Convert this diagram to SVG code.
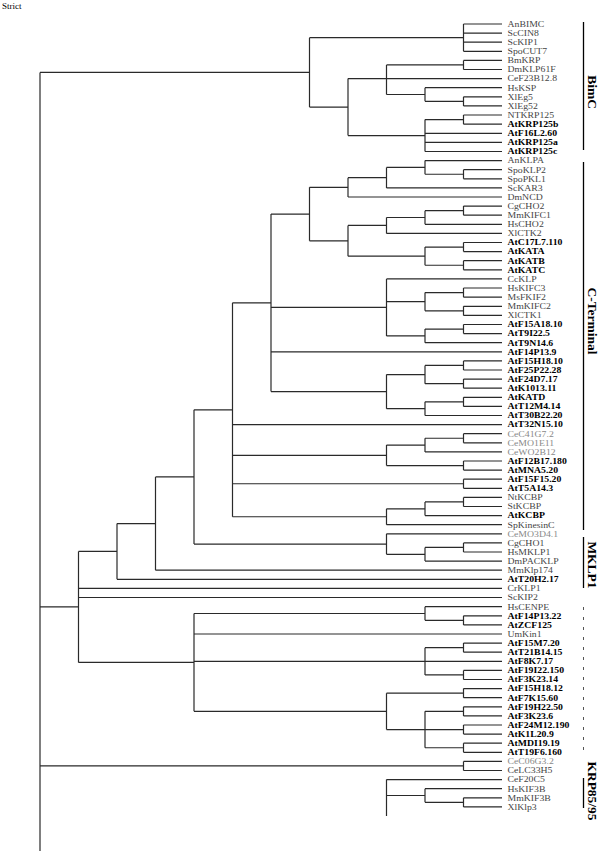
<svg xmlns="http://www.w3.org/2000/svg" width="600" height="851" viewBox="0 0 600 851">
<style>
.c{fill:none;stroke:#2a2a2a;stroke-width:1.2}
.l{font-family:"Liberation Serif",serif;font-size:8px;fill:#444}
.b{font-weight:bold;fill:#000}
.g{fill:#888}
.k{font-family:"Liberation Serif",serif;font-size:13.5px;font-weight:bold;fill:#000}
.bar{stroke:#000;stroke-width:1.3}
</style>
<rect width="600" height="851" fill="#fff"/>
<text x="2" y="9" font-family="Liberation Serif,serif" font-size="9">Strict</text>
<g id="connectors" class="c">
<path d="M40 72.4V851M40 72.4H309.5"/>
<path d="M463.5 24V51.3M463.5 24H502M463.5 33.1H502M463.5 42.2H502M463.5 51.3H502"/>
<path d="M463.5 60.4V69.5M463.5 60.4H502M463.5 69.5H502"/>
<path d="M463.5 96.8V105.9M463.5 96.8H502M463.5 105.9H502"/>
<path d="M425 87.7V101.35M425 87.7H502M425 101.35H463.5"/>
<path d="M386.5 64.95V94.5M386.5 64.95H463.5M386.5 78.6H502M386.5 94.5H425"/>
<path d="M463.5 115V124.2M463.5 115H502M463.5 124.2H502"/>
<path d="M425 119.6V151.5M425 119.6H463.5M425 133.3H502M425 142.4H502M425 151.5H502"/>
<path d="M348 78.6V135.55M348 78.6H386.5M348 135.55H425"/>
<path d="M309.5 37.65V107.1M309.5 37.65H463.5M309.5 107.1H348"/>
<path d="M463.5 169.7V178.8M463.5 169.7H502M463.5 178.8H502"/>
<path d="M425 160.6V174.25M425 160.6H502M425 174.25H463.5"/>
<path d="M386.5 167.4V187.9M386.5 167.4H425M386.5 187.9H502"/>
<path d="M348 177.65V197M348 177.65H386.5M348 197H502"/>
<path d="M463.5 206.1V215.2M463.5 206.1H502M463.5 215.2H502"/>
<path d="M425 210.65V224.3M425 210.65H463.5M425 224.3H502"/>
<path d="M386.5 217.5V233.4M386.5 217.5H425M386.5 233.4H502"/>
<path d="M463.5 242.5V251.6M463.5 242.5H502M463.5 251.6H502"/>
<path d="M463.5 260.7V269.8M463.5 260.7H502M463.5 269.8H502"/>
<path d="M425 247.05V265.25M425 247.05H463.5M425 265.25H463.5"/>
<path d="M348 225.45V256.15M348 225.45H386.5M348 256.15H425"/>
<path d="M309.5 187.3V240.8M309.5 187.3H348M309.5 240.8H348"/>
<path d="M463.5 288V297.2M463.5 288H502M463.5 297.2H502"/>
<path d="M463.5 306.3V315.4M463.5 306.3H502M463.5 315.4H502"/>
<path d="M425 292.6V310.85M425 292.6H463.5M425 310.85H463.5"/>
<path d="M463.5 324.5V333.6M463.5 324.5H502M463.5 333.6H502"/>
<path d="M425 329.05V342.7M425 329.05H463.5M425 342.7H502"/>
<path d="M386.5 278.9V335.9M386.5 278.9H502M386.5 301.7H425M386.5 335.9H425"/>
<path d="M463.5 360.9V370M463.5 360.9H502M463.5 370H502"/>
<path d="M463.5 379.1V388.2M463.5 379.1H502M463.5 388.2H502"/>
<path d="M425 365.45V383.65M425 365.45H463.5M425 383.65H463.5"/>
<path d="M463.5 397.3V406.4M463.5 397.3H502M463.5 406.4H502"/>
<path d="M425 401.85V415.5M425 401.85H463.5M425 415.5H502"/>
<path d="M386.5 374.55V408.7M386.5 374.55H425M386.5 408.7H425"/>
<path d="M271 214.05V391.6M271 214.05H309.5M271 307.4H386.5M271 351.8H502M271 391.6H386.5"/>
<path d="M463.5 433.7V442.8M463.5 433.7H502M463.5 442.8H502"/>
<path d="M425 438.25V451.9M425 438.25H463.5M425 451.9H502"/>
<path d="M463.5 461V470.1M463.5 461H502M463.5 470.1H502"/>
<path d="M386.5 445.1V465.55M386.5 445.1H425M386.5 465.55H463.5"/>
<path d="M463.5 479.2V488.3M463.5 479.2H502M463.5 488.3H502"/>
<path d="M463.5 497.4V506.5M463.5 497.4H502M463.5 506.5H502"/>
<path d="M425 501.95V515.6M425 501.95H463.5M425 515.6H502"/>
<path d="M386.5 508.8V524.7M386.5 508.8H425M386.5 524.7H502"/>
<path d="M232.5 302.8V516.75M232.5 302.8H271M232.5 424.6H502M232.5 455.3H386.5M232.5 483.75H463.5M232.5 516.75H386.5"/>
<path d="M463.5 542.9V552M463.5 542.9H502M463.5 552H502"/>
<path d="M425 547.45V561.1M425 547.45H463.5M425 561.1H502"/>
<path d="M386.5 533.8V554.3M386.5 533.8H502M386.5 554.3H425"/>
<path d="M194 409.8V544.05M194 409.8H232.5M194 544.05H386.5"/>
<path d="M155.5 476.9V570.2M155.5 476.9H194M155.5 570.2H502"/>
<path d="M117 523.55V579.3M117 523.55H155.5M117 579.3H502"/>
<path d="M463.5 615.8V624.9M463.5 615.8H502M463.5 624.9H502"/>
<path d="M425 606.7V620.35M425 606.7H502M425 620.35H463.5"/>
<path d="M463.5 643.1V652.2M463.5 643.1H502M463.5 652.2H502"/>
<path d="M463.5 670.4V679.5M463.5 670.4H502M463.5 679.5H502"/>
<path d="M425 647.65V674.95M425 647.65H463.5M425 661.3H502M425 674.95H463.5"/>
<path d="M463.5 688.6V697.7M463.5 688.6H502M463.5 697.7H502"/>
<path d="M463.5 706.8V715.9M463.5 706.8H502M463.5 715.9H502"/>
<path d="M463.5 725V734.1M463.5 725H502M463.5 734.1H502"/>
<path d="M463.5 743.2V752.3M463.5 743.2H502M463.5 752.3H502"/>
<path d="M425 711.35V747.75M425 711.35H463.5M425 729.55H463.5M425 747.75H463.5"/>
<path d="M386.5 693.15V729.55M386.5 693.15H463.5M386.5 729.55H425"/>
<path d="M194 613.5V711.35M194 613.5H425M194 634H502M194 661.3H425M194 711.35H386.5"/>
<path d="M78.5 551.4V662.4M78.5 551.4H117M78.5 588.4H502M78.5 597.5H502M78.5 662.4H194M40 606.9H78.5"/>
<path d="M463.5 761.4V770.5M463.5 761.4H502M463.5 770.5H502M40 765.95H463.5"/>
<path d="M463.5 797.8V806.9M463.5 797.8H502M463.5 806.9H502"/>
<path d="M425 788.7V802.35M425 788.7H502M425 802.35H463.5"/>
<path d="M386.5 779.6V816.1M386.5 779.6H502M386.5 795.5H425"/>
</g>
<g id="leaves" transform="translate(507.5 0) scale(1.22 1)">
<g id="n1"><text class="l" y="26.9">AnBIMC</text></g>
<g id="n2"><text class="l" y="36">ScCIN8</text></g>
<g id="n3"><text class="l" y="45.1">ScKIP1</text></g>
<g id="n4"><text class="l" y="54.2">SpoCUT7</text></g>
<g id="n5"><text class="l" y="63.3">BmKRP</text></g>
<g id="n6"><text class="l" y="72.4">DmKLP61F</text></g>
<g id="n7"><text class="l" y="81.5">CeF23B12.8</text></g>
<g id="n8"><text class="l" y="90.6">HsKSP</text></g>
<g id="n9"><text class="l" y="99.7">XlEg5</text></g>
<g id="n10"><text class="l" y="108.8">XlEg52</text></g>
<g id="n11"><text class="l" y="117.9">NTKRP125</text></g>
<g id="n12"><text class="l b" y="127.1">AtKRP125b</text></g>
<g id="n13"><text class="l b" y="136.2">AtF16L2.60</text></g>
<g id="n14"><text class="l b" y="145.3">AtKRP125a</text></g>
<g id="n15"><text class="l b" y="154.4">AtKRP125c</text></g>
<g id="n16"><text class="l" y="163.5">AnKLPA</text></g>
<g id="n17"><text class="l" y="172.6">SpoKLP2</text></g>
<g id="n18"><text class="l" y="181.7">SpoPKL1</text></g>
<g id="n19"><text class="l" y="190.8">ScKAR3</text></g>
<g id="n20"><text class="l" y="199.9">DmNCD</text></g>
<g id="n21"><text class="l" y="209">CgCHO2</text></g>
<g id="n22"><text class="l" y="218.1">MmKIFC1</text></g>
<g id="n23"><text class="l" y="227.2">HsCHO2</text></g>
<g id="n24"><text class="l" y="236.3">XlCTK2</text></g>
<g id="n25"><text class="l b" y="245.4">AtC17L7.110</text></g>
<g id="n26"><text class="l b" y="254.5">AtKATA</text></g>
<g id="n27"><text class="l b" y="263.6">AtKATB</text></g>
<g id="n28"><text class="l b" y="272.7">AtKATC</text></g>
<g id="n29"><text class="l" y="281.8">CcKLP</text></g>
<g id="n30"><text class="l" y="290.9">HsKIFC3</text></g>
<g id="n31"><text class="l" y="300.1">MsFKIF2</text></g>
<g id="n32"><text class="l" y="309.2">MmKIFC2</text></g>
<g id="n33"><text class="l" y="318.3">XlCTK1</text></g>
<g id="n34"><text class="l b" y="327.4">AtF15A18.10</text></g>
<g id="n35"><text class="l b" y="336.5">AtT9I22.5</text></g>
<g id="n36"><text class="l b" y="345.6">AtT9N14.6</text></g>
<g id="n37"><text class="l b" y="354.7">AtF14P13.9</text></g>
<g id="n38"><text class="l b" y="363.8">AtF15H18.10</text></g>
<g id="n39"><text class="l b" y="372.9">AtF25P22.28</text></g>
<g id="n40"><text class="l b" y="382">AtF24D7.17</text></g>
<g id="n41"><text class="l b" y="391.1">AtK1013.11</text></g>
<g id="n42"><text class="l b" y="400.2">AtKATD</text></g>
<g id="n43"><text class="l b" y="409.3">AtT12M4.14</text></g>
<g id="n44"><text class="l b" y="418.4">AtT30B22.20</text></g>
<g id="n45"><text class="l b" y="427.5">AtT32N15.10</text></g>
<g id="n46"><text class="l g" y="436.6">CeC41G7.2</text></g>
<g id="n47"><text class="l g" y="445.7">CeMO1E11</text></g>
<g id="n48"><text class="l g" y="454.8">CeWO2B12</text></g>
<g id="n49"><text class="l b" y="463.9">AtF12B17.180</text></g>
<g id="n50"><text class="l b" y="473">AtMNA5.20</text></g>
<g id="n51"><text class="l b" y="482.1">AtF15F15.20</text></g>
<g id="n52"><text class="l b" y="491.2">AtT5A14.3</text></g>
<g id="n53"><text class="l" y="500.3">NtKCBP</text></g>
<g id="n54"><text class="l" y="509.4">StKCBP</text></g>
<g id="n55"><text class="l b" y="518.5">AtKCBP</text></g>
<g id="n56"><text class="l" y="527.6">SpKinesinC</text></g>
<g id="n57"><text class="l g" y="536.7">CeMO3D4.1</text></g>
<g id="n58"><text class="l" y="545.8">CgCHO1</text></g>
<g id="n59"><text class="l" y="554.9">HsMKLP1</text></g>
<g id="n60"><text class="l" y="564">DmPACKLP</text></g>
<g id="n61"><text class="l" y="573.1">MmKlp174</text></g>
<g id="n62"><text class="l b" y="582.2">AtT20H2.17</text></g>
<g id="n63"><text class="l" y="591.3">CrKLP1</text></g>
<g id="n64"><text class="l" y="600.4">ScKIP2</text></g>
<g id="n65"><text class="l" y="609.6">HsCENPE</text></g>
<g id="n66"><text class="l b" y="618.7">AtF14P13.22</text></g>
<g id="n67"><text class="l b" y="627.8">AtZCF125</text></g>
<g id="n68"><text class="l" y="636.9">UmKin1</text></g>
<g id="n69"><text class="l b" y="646">AtF15M7.20</text></g>
<g id="n70"><text class="l b" y="655.1">AtT21B14.15</text></g>
<g id="n71"><text class="l b" y="664.2">AtF8K7.17</text></g>
<g id="n72"><text class="l b" y="673.3">AtF19I22.150</text></g>
<g id="n73"><text class="l b" y="682.4">AtF3K23.14</text></g>
<g id="n74"><text class="l b" y="691.5">AtF15H18.12</text></g>
<g id="n75"><text class="l b" y="700.6">AtF7K15.60</text></g>
<g id="n76"><text class="l b" y="709.7">AtF19H22.50</text></g>
<g id="n77"><text class="l b" y="718.8">AtF3K23.6</text></g>
<g id="n78"><text class="l b" y="727.9">AtF24M12.190</text></g>
<g id="n79"><text class="l b" y="737">AtK1L20.9</text></g>
<g id="n80"><text class="l b" y="746.1">AtMDI19.19</text></g>
<g id="n81"><text class="l b" y="755.2">AtT19F6.160</text></g>
<g id="n82"><text class="l g" y="764.3">CeC06G3.2</text></g>
<g id="n83"><text class="l" y="773.4">CeLC33H5</text></g>
<g id="n84"><text class="l" y="782.5">CeF20C5</text></g>
<g id="n85"><text class="l" y="791.6">HsKIF3B</text></g>
<g id="n86"><text class="l" y="800.7">MmKIF3B</text></g>
<g id="n87"><text class="l" y="809.8">XlKlp3</text></g>
</g>
<g id="groups">
<g id="g-bimc"><path class="bar" d="M583.5 22V150"/><text class="k" text-anchor="middle" transform="translate(588 92) rotate(90)">BimC</text></g>
<g id="g-cterm"><path class="bar" d="M583.5 162V530"/><text class="k" text-anchor="middle" transform="translate(588 321) rotate(90)">C-Terminal</text></g>
<g id="g-mklp"><path class="bar" d="M583.5 537V588"/><text class="k" text-anchor="middle" transform="translate(588 565) rotate(90)">MKLP1</text></g>
<g id="g-dash"><path stroke="#555" stroke-width="1" stroke-dasharray="3 7" d="M583.5 607V752"/></g>
<g id="g-krp"><path class="bar" d="M583.5 778V808"/><text class="k" text-anchor="middle" transform="translate(588 791) rotate(90)">KRP85/95</text></g>
</g>
</svg>
